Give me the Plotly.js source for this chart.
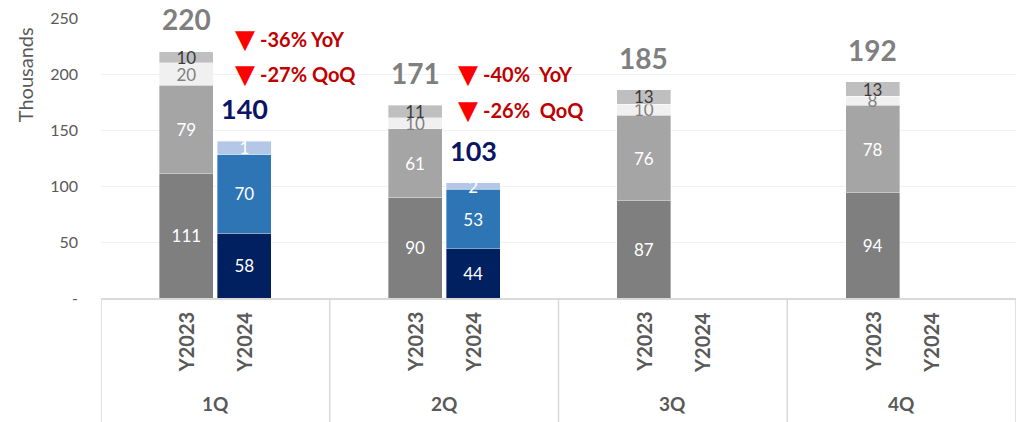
<!DOCTYPE html>
<html>
<head>
<meta charset="utf-8">
<script src="https://cdn.plot.ly/plotly-3.0.1.min.js"></script>
<style>html,body{margin:0;padding:0;background:#fff;}#chart{width:1021px;height:422px;}</style>
</head>
<body>
<div id="chart"></div>
<script>
// ---- data ----
const quarters = ["1Q", "2Q", "3Q", "4Q"];
const yearLabels = ["Y2023", "Y2024"];
const y2023Base = [111, 90, 87, 94];
const y2023Mid = [79, 61, 76, 78];
const y2023Light = [20, 10, 10, 8];
const y2023Top = [10, 11, 13, 13];
const y2023Total = [220, 171, 185, 192];
const y2024Base = [58, 44, null, null];
const y2024Mid = [70, 53, null, null];
const y2024Top = [12, 6, null, null];
const y2024TopLabels = ["1", "2", "", ""];
const y2024Total = [140, 103, null, null];
const yoyLabels = ["-36% YoY", "-40%&nbsp;&nbsp;YoY"];
const qoqLabels = ["-27% QoQ", "-26%&nbsp;&nbsp;QoQ"];
const yTickVals = [0, 50, 100, 150, 200, 250];
const yTickText = ["-", "50", "100", "150", "200", "250"];
const yTitle = "Thousands";

// ---- styling ----
const FONT = "Lato, 'Open Sans', sans-serif";
const W = 0.236;         // bar width in category units
const OFF23 = -0.245;    // Y2023 bar left edge offset
const OFF24 = 0.009;     // Y2024 bar left edge offset

function seg(vals, color, txtColor, xaxis, off, labels) {
  return {
    type: "bar", x: quarters, y: vals, xaxis: xaxis, yaxis: "y",
    width: W, offset: off,
    marker: {color: color, line: {color: "rgba(255,255,255,0.6)", width: 0.6}},
    text: labels || vals.map(v => v == null ? "" : String(v)),
    texttemplate: "%{text}",
    textposition: "inside", insidetextanchor: "middle", constraintext: "none",
    textangle: 0, cliponaxis: false,
    textfont: {family: FONT, size: 17, color: txtColor},
    hoverinfo: "skip", showlegend: false
  };
}

const traces = [
  seg(y2023Base, "#7f7f7f", "#ffffff", "x", OFF23),
  seg(y2023Mid, "#a5a5a5", "#ffffff", "x", OFF23),
  seg(y2023Light, "#f0f0f0", "#808080", "x", OFF23),
  seg(y2023Top, "#bfbfbf", "#3a3a3a", "x", OFF23),
  seg(y2024Base, "#002060", "#ffffff", "x2", OFF24),
  seg(y2024Mid, "#2e75b6", "#ffffff", "x2", OFF24),
  seg(y2024Top, "#b4c7e7", "#ffffff", "x2", OFF24, y2024TopLabels)
];

const annotations = [];
const shapes = [];
quarters.forEach((q, i) => {
  const c23 = i + OFF23 + W / 2;
  const c24 = i + OFF24 + W / 2;
  // totals
  if (y2023Total[i] != null) annotations.push({
    x: c23, y: y2023Total[i], xref: "x", yref: "y", yanchor: "bottom", yshift: 14,
    text: "<b>" + y2023Total[i] + "</b>", showarrow: false,
    font: {family: FONT, size: 28, color: "#7f7f7f"}
  });
  if (y2024Total[i] != null) annotations.push({
    x: c24, y: y2024Total[i], xref: "x", yref: "y", yanchor: "bottom", yshift: 14,
    text: "<b>" + y2024Total[i] + "</b>", showarrow: false,
    font: {family: FONT, size: 27, color: "#0c1466"}
  });
  // year labels
  [c23, c24].forEach((cx, k) => annotations.push({
    x: cx, y: -0.157, xref: "x", yref: "paper", textangle: -90,
    xanchor: "center", yanchor: "middle",
    text: "<b>" + yearLabels[k] + "</b>", showarrow: false,
    font: {family: FONT, size: 20, color: "#595959"}
  }));
  // quarter labels
  annotations.push({
    x: i, y: -0.375, xref: "x", yref: "paper", xanchor: "center", yanchor: "middle",
    text: "<b>" + q + "</b>", showarrow: false,
    font: {family: FONT, size: 19, color: "#595959"}
  });
});
// dividers / frame
[-0.5, 0.5, 1.5, 2.5, 3.5].forEach(xv => shapes.push({
  type: "line", xref: "x", yref: "paper", x0: xv, x1: xv, y0: 0, y1: -0.45,
  line: {color: "#d9d9d9", width: 1.5}
}));
// change annotations (triangle + text)
const triX = [0.129, 1.103];
const txtX = [0.186, 1.159];
const yoyY = [231, 200];
const qoqY = [200, 168];
yoyLabels.forEach((t, k) => {
  [[t, yoyY[k]], [qoqLabels[k], qoqY[k]]].forEach(([txt, yy]) => {
    annotations.push({
      x: triX[k], y: yy, xref: "x", yref: "y", xanchor: "center", yanchor: "middle",
      text: "▼", showarrow: false,
      font: {family: "DejaVu Sans", size: 26, color: "#ff0000"}
    });
    annotations.push({
      x: txtX[k], y: yy, xref: "x", yref: "y", xanchor: "left", yanchor: "middle",
      text: "<b>" + txt + "</b>", showarrow: false,
      font: {family: FONT, size: 20, color: "#c00000"}
    });
  });
});
// y-axis title (placed near the top, as in the reference)
annotations.push({
  x: -0.083, y: 0.796, xref: "paper", yref: "paper", textangle: -90,
  xanchor: "center", yanchor: "middle", showarrow: false,
  text: yTitle, font: {family: FONT, size: 20, color: "#595959"}
});

const layout = {
  width: 1021, height: 422,
  margin: {l: 101, r: 5, t: 18, b: 124},
  paper_bgcolor: "#ffffff", plot_bgcolor: "#ffffff",
  barmode: "stack",
  showlegend: false,
  font: {family: FONT, color: "#595959"},
  xaxis: {
    type: "category", categoryarray: quarters, range: [-0.5, 3.5],
    showticklabels: false, ticks: "", showgrid: false, zeroline: false,
    showline: true, linecolor: "#d9d9d9", linewidth: 1.5, fixedrange: true
  },
  xaxis2: {
    type: "category", categoryarray: quarters, range: [-0.5, 3.5],
    overlaying: "x", visible: false, fixedrange: true
  },
  yaxis: {
    range: [0, 250], tickvals: yTickVals, ticktext: yTickText,
    showgrid: true, gridcolor: "#f0f0f0", gridwidth: 1, zeroline: false,
    showline: false, ticks: "", ticklabelstandoff: 22,
    tickfont: {family: FONT, size: 16, color: "#595959"},
    fixedrange: true
  },
  annotations: annotations,
  shapes: shapes
};

Plotly.newPlot("chart", traces, layout, {displayModeBar: false, staticPlot: true});
</script>
</body>
</html>
